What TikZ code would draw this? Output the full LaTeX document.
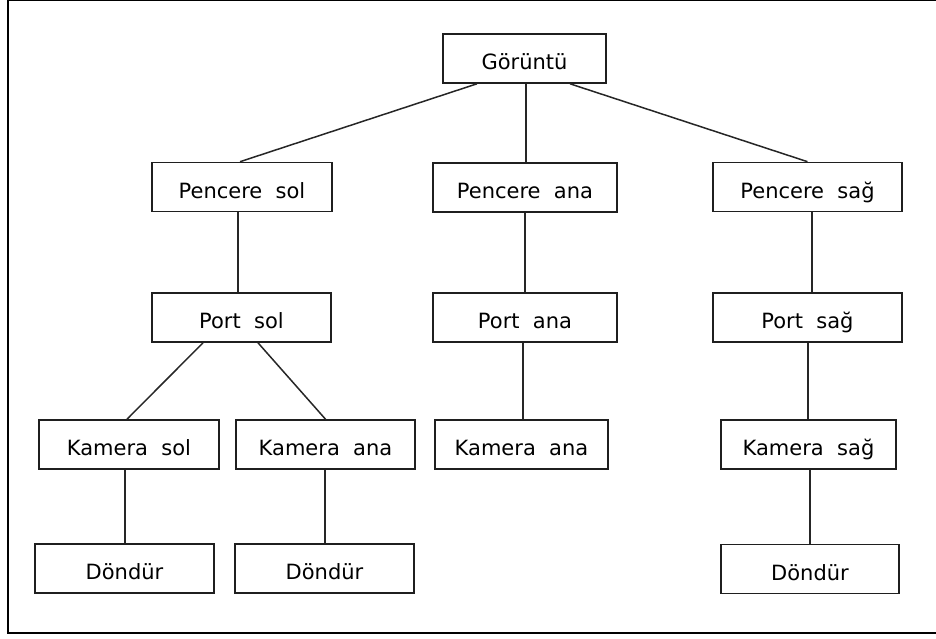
\documentclass[tikz,border=0pt]{standalone}
\usepackage{fontspec}
\setmainfont{DejaVu Sans}
\begin{document}
\begin{tikzpicture}[x=1pt,y=-1pt,
  box/.style={draw=black!88, line width=1.6pt, fill=white, inner sep=0pt,
    minimum height=49pt, text height=22pt, text depth=0pt,
    font=\fontsize{21}{25}\selectfont},
  link/.style={draw=black!85, line width=1.5pt}]
\useasboundingbox (0,0) rectangle (936,639);
% frame
\draw[line width=2.2pt] (8,0) rectangle (945,633);

% level 0
\node[box, minimum width=163pt] (gor) at (524.5,58.5) {Görüntü};
% level 1
\node[box, minimum width=180pt] (psol) at (242,187) {Pencere~~sol};
\node[box, minimum width=184pt] (pana) at (525,187.5) {Pencere~~ana};
\node[box, minimum width=189pt] (psag) at (807.5,187) {Pencere~~sağ};
% level 2
\node[box, minimum width=179pt] (portsol) at (241.5,317.5) {Port~~sol};
\node[box, minimum width=184pt] (portana) at (525,317.5) {Port~~ana};
\node[box, minimum width=189pt] (portsag) at (807.5,317.5) {Port~~sağ};
% level 3
\node[box, minimum width=180pt] (ksol) at (129,444.5) {Kamera~~sol};
\node[box, minimum width=179pt] (kanaA) at (325.5,444.5) {Kamera~~ana};
\node[box, minimum width=173pt] (kanaB) at (521.5,444.5) {Kamera~~ana};
\node[box, minimum width=175pt] (ksag) at (808.5,444.5) {Kamera~~sağ};
% level 4
\node[box, minimum width=179pt] (dA) at (124.5,568.5) {Döndür};
\node[box, minimum width=179pt] (dB) at (324.5,568.5) {Döndür};
\node[box, minimum width=178pt] (dC) at (810,569) {Döndür};

% connectors
\draw[link] ([xshift=-47.5pt]gor.south) -- ([xshift=-2pt]psol.north);
\draw[link] ([xshift=1.5pt]gor.south) -- ([xshift=1.5pt]gor.south |- pana.north);
\draw[link] ([xshift=45.5pt]gor.south) -- (psag.north);

\draw[link] ([xshift=-4pt]psol.south) -- ([xshift=-4pt]psol.south |- portsol.north);
\draw[link] (pana.south) -- (pana.south |- portana.north);
\draw[link] ([xshift=4.5pt]psag.south) -- ([xshift=4.5pt]psag.south |- portsag.north);

\draw[link] ([xshift=-38.5pt]portsol.south) -- ([xshift=-2pt]ksol.north);
\draw[link] ([xshift=16.5pt]portsol.south) -- (kanaA.north);
\draw[link] ([xshift=-2pt]portana.south) -- ([xshift=-2pt]portana.south |- kanaB.north);
\draw[link] ([xshift=0.5pt]portsag.south) -- ([xshift=0.5pt]portsag.south |- ksag.north);

\draw[link] ([xshift=0.5pt]dA.north) -- ([xshift=0.5pt]dA.north |- ksol.south);
\draw[link] ([xshift=0.5pt]dB.north) -- ([xshift=0.5pt]dB.north |- kanaA.south);
\draw[link] ([xshift=1.5pt]ksag.south) -- ([xshift=1.5pt]ksag.south |- dC.north);
\end{tikzpicture}
\end{document}
